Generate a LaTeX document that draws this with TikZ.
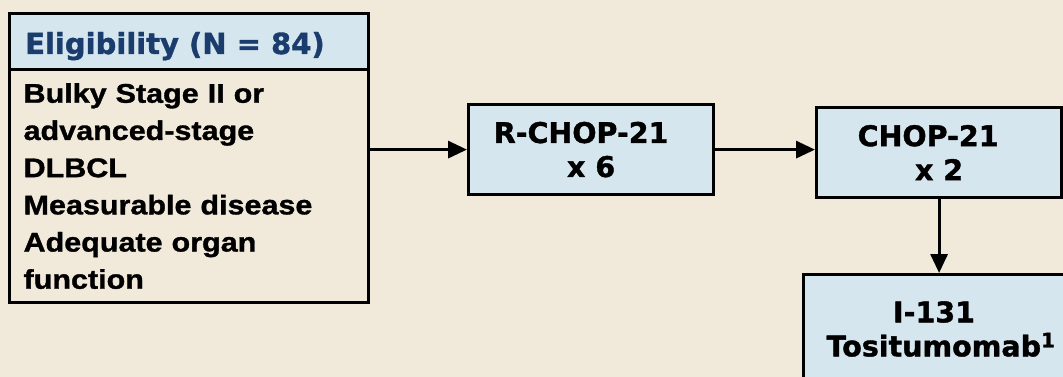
\documentclass[tikz,border=0pt]{standalone}
\usepackage{fontspec}
\usetikzlibrary{arrows.meta}
\setmainfont{DejaVu Sans}[BoldFeatures={FakeBold=1.3}]
\newfontfamily\criteriafont{Liberation Sans}[FakeStretch=1.13, BoldFeatures={FakeBold=1.2}]

\definecolor{paper}{HTML}{F1EADB}
\definecolor{boxfill}{HTML}{D5E6EF}
\definecolor{navy}{HTML}{1B3D6D}

\begin{document}
\begin{tikzpicture}[x=1pt,y=-1pt,
  frame/.style={draw=black, line width=3.2pt, fill=boxfill, inner sep=0pt},
  flow/.style={draw=black, line width=3.2pt, -{Triangle[length=19pt,width=17pt]}},
  stagetext/.style={font=\fontsize{28.5}{34}\selectfont\bfseries, align=center, text=black},
]
\clip (0,0) rectangle (1063,377);
\fill[paper] (0,0) rectangle (1063,377);

% eligibility panel: shaded title strip above the criteria list
\node[frame, anchor=north west, minimum width=359pt, minimum height=56pt] (eligHead) at (8,12) {};
\node[anchor=base west, inner sep=0pt, text=navy,
      font=\fontsize{29}{33}\selectfont\bfseries] (eligTitle) at (25,54) {Eligibility (N = 84)};
\node[draw=black, line width=3.2pt, anchor=north west, minimum width=359pt, minimum height=233pt,
      inner xsep=14pt, inner ysep=0pt, text width=331pt, align=left,
      font=\criteriafont\bfseries\fontsize{27}{37.2}\selectfont] (elig) at (8,68)
  {Bulky Stage II or\\advanced-stage\\DLBCL\\Measurable disease\\Adequate organ\\function};

% treatment stages
\node[frame, anchor=north west, minimum width=245pt, minimum height=90pt, stagetext] (rchop) at (467,103)
  {R-CHOP-21\hspace*{20pt}\\x 6};
\node[frame, anchor=north west, minimum width=245pt, minimum height=90pt, stagetext] (chop) at (815,106)
  {CHOP-21\hspace*{22pt}\\x 2};
\node[frame, anchor=north west, minimum width=320pt, minimum height=160pt] (dose) at (802,273) {};
\node[stagetext, anchor=center, inner sep=0pt] (doseText) at (941,329)
  {I-131\hspace*{14pt}\\Tositumomab\textsuperscript{1}};

% connectors
\draw[flow] (elig.east |- rchop.west) -- (rchop.west);
\draw[flow] (rchop.east) -- (rchop.east -| chop.west);
\draw[flow] (chop.south) -- (chop.south |- dose.north);
\end{tikzpicture}
\end{document}
